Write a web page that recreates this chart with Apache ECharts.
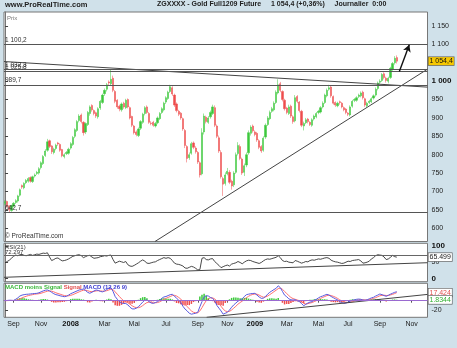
<!DOCTYPE html>
<html><head><meta charset="utf-8">
<script src="https://cdn.jsdelivr.net/npm/echarts@6/dist/echarts.min.js"></script>
<style>html,body{margin:0;padding:0;background:#d0e1ea}#c{width:457px;height:348px}</style>
</head><body><div id="c"></div>
<script>
// ---- price candles (one candle per 3 trading days, Aug 2007 - Oct 2009) ----
const opens = [
668,673,661,648,660,670,
674,690,716,710,724,
728,738,727,742,749,750,
765,776,798,812,
838,824,806,817,
832,828,814,795,803,
804,818,828,850,866,893,
908,888,862,882,
912,934,920,914,903,927,
942,966,978,998,993,
1008,972,948,932,922,940,928,
950,928,904,878,862,
852,872,888,912,930,
912,886,888,878,887,
898,915,922,943,953,972,
982,962,938,918,913,898,
866,822,792,804,
832,818,806,778,
748,862,902,888,
903,912,928,878,
846,806,735,
722,748,752,728,
718,752,803,822,788,
752,772,805,858,878,
862,858,838,822,812,
848,882,898,918,922,942,968,
993,972,948,927,912,932,903,
892,958,943,918,878,
887,897,888,880,897,
903,915,916,930,942,960,978,
984,958,942,933,944,
940,928,924,913,908,
932,948,948,958,960,970,
952,933,942,944,954,962,
980,997,1002,1020,1008,
1000,1010,1033,1050,1064
];
const closes = [
672,660,650,662,668,675,
688,705,712,722,730,
735,728,740,745,752,762,
778,795,810,835,
822,808,815,826,
829,812,797,800,806,
815,830,847,868,890,905,
890,860,885,915,
930,922,912,905,925,945,
962,975,990,995,1005,
975,945,930,925,938,930,948,
930,900,880,860,855,
870,890,910,928,915,
888,885,880,885,900,
912,925,940,955,970,985,
965,935,920,910,900,870,
825,790,800,830,
820,808,780,745,
860,905,890,900,
915,930,880,850,
810,740,720,
745,755,725,715,
750,800,825,790,750,
770,800,860,875,865,
855,840,820,810,845,
880,900,915,925,940,970,990,
975,950,925,915,930,905,890,
955,945,920,880,885,
895,890,882,895,905,
912,918,928,940,962,975,982,
960,940,935,940,942,
930,922,915,910,930,
945,950,955,962,968,955,
935,940,945,952,960,978,
995,1000,1018,1010,1002,
1008,1035,1048,1062,1054.4
];
const highs = [
676,675,663,664,671,679,
691,708,719,725,734,
739,741,743,749,756,766,
782,799,815,843,
841,826,819,830,
835,831,816,804,810,
819,834,851,872,894,910,
912,891,888,919,
934,937,923,917,929,949,
966,980,995,1002,1033,
1015,976,951,936,942,944,952,
953,931,906,881,866,
874,894,914,932,934,
916,891,892,889,904,
916,929,944,959,974,990,
986,966,942,922,916,901,
870,826,806,835,
836,823,810,782,
872,912,906,905,
920,936,934,882,
852,812,740,
752,764,758,732,
755,806,834,828,792,
776,806,866,880,882,
866,862,842,826,850,
885,905,920,930,945,975,1005,
998,975,952,930,936,936,907,
962,962,946,922,890,
900,900,891,899,909,
916,922,932,945,966,980,990,
987,961,945,944,947,
943,931,927,916,934,
949,954,959,966,972,974,
955,944,949,956,964,983,
999,1005,1022,1024,1012,
1012,1039,1052,1068,1070
];
const lows = [
662,656,643,645,657,666,
670,686,707,706,720,
724,724,723,738,745,746,
760,772,794,808,
818,802,801,812,
824,808,793,790,799,
800,814,824,845,862,888,
885,852,856,878,
906,917,907,900,898,922,
938,960,972,988,988,
970,940,925,918,917,925,924,
926,896,875,855,850,
848,867,884,907,911,
884,880,876,874,883,
894,911,918,938,949,968,
960,930,915,905,895,865,
818,779,786,800,
815,803,775,738,
744,855,885,884,
898,908,875,845,
805,735,688,
716,744,720,705,
712,748,798,785,745,
742,766,800,852,860,
850,835,815,805,808,
843,878,894,914,918,938,964,
970,945,920,910,908,900,884,
888,940,915,875,866,
883,885,878,876,893,
899,910,912,926,938,956,974,
955,936,930,929,936,
926,918,910,905,904,
928,943,944,954,956,950,
930,929,938,940,950,958,
975,992,998,1005,996,
994,1006,1028,1045,1048
];
// ---- RSI(21) ----
const rsi = [
48,52,56,62,68, 72,70,73,74,71, 70,72,74,71,73, 75,74,76,78,77,
79,66,55,58,62, 63,58,54,55,57, 60,64,68,70,72, 73,70,64,67,70,
71,66,62,63,64, 67,68,70,69,71, 72,58,47,50,53, 51,49,52,42,38,
37,40,44,48,53, 57,53,47,46,48, 50,51,55,58,61, 64,62,64,62,55,
47,44,43,41,38, 32,31,34,37,35, 31,26,27,62,64, 58,57,60,61,52,
46,40,33,36,39, 41,38,44,46,48, 52,49,45,50,54, 56,55,52,50,48,
46,49,54,58,60, 59,61,63,65,70, 64,55,52,53,50, 49,48,55,53,50,
47,49,52,51,55, 57,56,58,60,59, 61,63,64,62,56, 53,51,50,48,46,
47,50,53,52,55, 56,57,58,54,47, 48,50,53,60,64, 70,73,72,71,66,
58,60,65,71,67,65.499
];
// ---- MACD (12 26 9) ----
const macd = [
0,0.5,1,0.8,0.5, 3,6,10,12,13, 13.7,14,14.5,15,15.5, 15.8,17,19,21,22.5,
23,21,18,15,13, 12,10.5,9.5,8.6,9.5, 12,15,17,19,21, 23,24,25,22,18,
16,18,21,23,22, 20,19,21,24,27, 28,20,9,3,-2, -5,-6,-6,-9,-14,
-17.5,-17.8,-16,-13,-8, -3,1,1.4,-2,-5, -5.7,-4,-2,1,5, 8,9,11,13,13.7,
10,5,1.4,-4,-12, -18,-22,-27,-29,-28, -27,-25,-13,-2,8, 10.8,10,7,5,0,
-10,-16,-22,-29,-27, -25,-20,-14,-9,-5, -1,1.4,4,9,13, 14,15,15.5,15.8,12,
8,5,5.5,9,14, 18,21,24,26.5,32, 28,20,12,8.6,4, 2,1.4,2,0,-2,
-6,-10.8,-8,-5,-3, -2,1,3,6,8.6, 10,12,13.7,12,9, 6.5,4,2,-2,-4,
-5.7,-5,-3,-1,1, 2,3,3.5,3,1.4, 1,2,4,6,7.3, 10,12,14.4,13,11,
9.5,11.6,14,16,18,19.26
];
const signal = [
0,0.2,0.4,0.5,0.5, 1,2,4,6,8, 9.5,11,12,13,14, 14.5,15,16,17.5,19,
20.5,21,20.5,19,17, 15.5,14,12.5,11,10.5, 10.5,11.5,13,15,17, 19,21,22.5,22.5,21.5,
20,19.5,20,21,21.5, 21,20.5,20.5,21.5,23, 25,24,19,14,9, 4,0,-2.5,-4.5,-7.5,
-11,-13.5,-15,-15,-13.5, -10.5,-7,-4,-3,-3.5, -4.5,-4.5,-4,-2.5,0, 3,5,7,9,11,
11.5,10,7,3.5,-2, -7.5,-12.5,-17.5,-22,-25, -26,-26,-22,-15,-7, 0,4.5,6,6,4,
-1,-6.5,-12,-18,-22, -23.5,-23,-20,-16,-12, -7.5,-4,-1,3,6.5, 9.5,12,13.5,14.5,14,
12,9.5,7.5,8,10, 13,16,19.5,22.5,26, 27,24.5,20,15.5,11, 7,4.5,3,1.5,0,
-2.5,-5.5,-7,-6.5,-5, -4,-2,0,2.5,5, 7,9,11,12,11, 9.5,7.5,5,2,-0.5,
-2.5,-4,-4,-3,-2, -0.5,1,2,2.5,2, 1.6,1.8,2.5,3.5,5, 6.5,8.5,10.5,11.5,11.8,
11.2,11.3,12.4,13.6,15.4,17.424
];
const hist = [
0,0.3,0.6,0.3,0, 2,4,6,6,5, 4.2,3,2.5,2,1.5, 1.3,2,3,3.5,3.5,
2.5,0,-2.5,-4,-4, -3.5,-3.5,-3,-2.4,-1, 1.5,3.5,4,4,4, 4,3,2.5,-0.5,-3.5,
-4,-1.5,1,2,0.5, -1,-1.5,0.5,2.5,4, 3,-4,-10,-11,-11, -9,-6,-3.5,-4.5,-6.5,
-6.5,-4.3,-1,2,5.5, 7.5,8,5.4,1,-1.5, -1.2,0.5,2,3.5,5, 5,4,4,4,2.7,
-1.5,-5,-5.6,-7.5,-10, -10.5,-9.5,-9.5,-7,-3, -1,1,9,13,15, 10.8,5.5,1,-1,-4,
-9,-9.5,-10,-11,-5, -1.5,3,6,7,7, 6.5,5.4,5,6,6.5, 4.5,3,2,1.3,-2,
-4,-4.5,-2,1,4, 5,5,4.5,4,6, 1,-4.5,-8,-7,-7, -5,-3,-1,-1.5,-2,
-3.5,-5.3,-1,1.5,2, 2,3,3,3.5,3.6, 3,3,2.7,0,-2, -3,-3.5,-3,-4,-3.5,
-3.2,-1,1,2,3, 2.5,2,1.5,0.5,-0.6, -0.6,0.2,1.5,2.5,2.3, 3.5,3.5,3.9,1.5,-0.8,
-1.7,0.3,1.6,2.4,2.6,1.8344
];
// ---- axes / annotations ----
const totalSlots = 200;
const monthTicks = [[4,'Sep'],[17,'Nov'],[31,'2008'],[47,'Mar'],[61,'Mai'],[76,'Jul'],[91,'Sep'],[105,'Nov'],[118,'2009'],[133,'Mar'],[148,'Mai'],[162,'Jul'],[177,'Sep'],[192,'Nov']];
const priceTicks = [600,650,700,750,800,850,900,950,1000,1100,1150];
const rsiTicks = [0,50,100];
const macdTicks = [-20];
const levelValues = [1100.2,1032.3,1025.8,989.7,642.7];
const levelLabels = ['1 100,2','1 032,3','1 025,8','989,7','642,7'];
const trendDown = [[-0.5,1053.3],[199.5,983.7]];
const trendUp = [[70.8,564],[199.5,1032.6]];
const arrowPts = [[186.2,1026],[190.9,1099]];
const rsiLevel = 72.297;
const rsiTrend = [[-0.5,3.1],[199.5,48.3]];
const macdTrend = [[95.2,-35.7],[199.5,13.5]];

const UP='#3cc83c', DOWN='#ee4c4c', FONT='Liberation Sans, Arial, sans-serif';
const cats=[]; {let d=new Date(Date.UTC(2007,7,13));for(let i=0;i<totalSlots;i++){cats.push(d.toISOString().slice(0,10));let n=0;while(n<3){d.setUTCDate(d.getUTCDate()+1);const w=d.getUTCDay();if(w!==0&&w!==6)n++;}}}
const tickMap=new Map(monthTicks);
const ohlc=closes.map((c,i)=>[opens[i],c,lows[i],highs[i]]);
function fr(v,dec){let s=dec?v.toFixed(dec).replace('.',','):String(v);const [a,b]=s.split(',');const ip=a.length>3?a.slice(0,-3)+' '+a.slice(-3):a;return b!==undefined?ip+','+b:ip;}
const last=closes.length-1;
const grids=[{left:4,right:29.5,top:12,height:229.5},{left:4,right:29.5,top:243.3,height:38.4},{left:4,right:29.5,top:283.3,height:34}];
const gridStyle={show:true,backgroundColor:'#fff',borderColor:'#777',borderWidth:1};
const catAxis=(g,showLabels)=>({type:'category',gridIndex:g,data:cats,boundaryGap:true,
  axisLine:{show:showLabels,lineStyle:{color:'#777'}},
  axisTick:{show:showLabels,interval:(i)=>tickMap.has(i),alignWithLabel:true,length:2,lineStyle:{color:'#555'}},
  axisLabel:{show:showLabels,interval:(i)=>tickMap.has(i),formatter:(v,i)=>{const t=tickMap.get(i)||'';return /^\d{4}$/.test(t)?'{y|'+t+'}':t;},
    fontSize:7,color:'#222',margin:3,fontFamily:FONT,rich:{y:{fontWeight:'bold',fontSize:7.5,fontFamily:FONT,color:'#111'}}},
  splitLine:{show:false}});
const valX=(g)=>({type:'value',gridIndex:g,min:-0.5,max:totalSlots-0.5,show:false});
const yAx=(g,min,max,ticks,boldSet)=>({type:'value',gridIndex:g,position:'right',min,max,scale:true,
  axisLine:{show:true,lineStyle:{color:'#777'}},
  axisTick:{show:true,length:3,customValues:ticks,lineStyle:{color:'#444'}},
  axisLabel:{customValues:ticks,fontSize:7,color:'#222',margin:4,fontFamily:FONT,
    formatter:(v)=>boldSet.includes(v)?'{b|'+fr(v)+'}':fr(v),rich:{b:{fontWeight:'bold',fontSize:8,fontFamily:FONT,color:'#111'}}},
  splitLine:{show:false}});
const HIDDEN={color:'rgba(0,0,0,0)',width:0.01,type:'solid'};
const boxLabel=(txt,color,bg)=>({show:true,position:'end',distance:1,formatter:txt,fontSize:7,color,fontFamily:FONT,backgroundColor:bg,borderColor:'#555',borderWidth:0.6,padding:[1,1,0,1]});
const trendStyle={color:'#444',width:1};
const option={
  animation:false,backgroundColor:'#d0e1ea',
  textStyle:{fontFamily:FONT},
  title:[
    {text:'www.ProRealTime.com',left:5,top:1,padding:0,textStyle:{fontSize:7.5,fontWeight:'bold',color:'#222',fontFamily:FONT}},
    {text:'ZGXXXX - Gold Full1209 Future     '+fr(closes[last],1)+' (+0,36%)     Journalier  0:00',left:157,top:1,padding:0,textStyle:{fontSize:7,fontWeight:'bold',color:'#222',fontFamily:FONT}},
    {text:'Prix',left:7,top:15,padding:0,textStyle:{fontSize:6,fontWeight:'normal',color:'#777',fontFamily:FONT}},
    {text:'© ProRealTime.com',left:5,top:233,padding:0,textStyle:{fontSize:6.5,fontWeight:'normal',color:'#333',fontFamily:FONT}},
    {text:'RSI(21)',left:5,top:244,padding:0,textStyle:{fontSize:6,fontWeight:'normal',color:'#333',fontFamily:FONT}},
    {text:String(rsiLevel),left:5,top:249,padding:0,textStyle:{fontSize:6,fontWeight:'normal',color:'#333',fontFamily:FONT}},
    {text:'{g|MACD moins Signal} {r|Signal} {b|MACD (12 26 9)}',left:5,top:284,padding:0,textStyle:{fontSize:6,fontFamily:FONT,rich:{g:{color:'#3cb83c',fontSize:6,fontFamily:FONT},r:{color:'#e05050',fontSize:6,fontFamily:FONT},b:{color:'#4040d0',fontSize:6,fontFamily:FONT}}}}
  ],
  grid:grids.map(g=>Object.assign({},g,gridStyle)),
  xAxis:[catAxis(0,false),catAxis(1,false),catAxis(2,true),valX(0),valX(1),valX(2)],
  yAxis:[yAx(0,564,1188,priceTicks,[1000]),yAx(1,-10.5,108.4,rsiTicks,[0,100]),yAx(2,-35.7,37.4,macdTicks,[])],
  series:[
    {type:'candlestick',xAxisIndex:0,yAxisIndex:0,data:ohlc,barWidth:1.7,
     itemStyle:{color:UP,color0:DOWN,borderColor:UP,borderColor0:DOWN,borderWidth:0.5},
     markLine:{silent:true,symbol:'none',animation:false,
       lineStyle:{color:'#555',width:1,type:'solid'},
       label:{position:'insideStartTop',fontSize:6.5,color:'#333',fontFamily:FONT,distance:[1,1]},
       data:levelValues.map((v,i)=>({yAxis:v,label:{formatter:levelLabels[i]}})).concat([
         {yAxis:closes[last],lineStyle:HIDDEN,label:boxLabel(fr(closes[last],1),'#111','#f6c800')}])}},
    {type:'line',xAxisIndex:3,yAxisIndex:0,data:trendDown,symbol:'none',lineStyle:trendStyle},
    {type:'line',xAxisIndex:3,yAxisIndex:0,data:trendUp,symbol:'none',lineStyle:trendStyle,
     markLine:{silent:true,symbol:['none','arrow'],symbolSize:[6,7],lineStyle:{color:'#111',width:1.4,type:'solid'},label:{show:false},
       data:[[{coord:arrowPts[0]},{coord:arrowPts[1]}]]}},
    {type:'line',xAxisIndex:1,yAxisIndex:1,data:rsi,symbol:'none',lineStyle:{color:'#333',width:0.9},
     markLine:{silent:true,symbol:'none',lineStyle:{color:'#666',width:1,type:'solid'},label:{show:false},
       data:[{yAxis:rsiLevel},{yAxis:rsi[last],lineStyle:HIDDEN,label:boxLabel(String(rsi[last]),'#222','#fff')}]}},
    {type:'line',xAxisIndex:4,yAxisIndex:1,data:rsiTrend,symbol:'none',lineStyle:trendStyle},
    {type:'bar',xAxisIndex:2,yAxisIndex:2,data:hist,barWidth:1.5,
     itemStyle:{color:(p)=>p.value>=0?UP:DOWN}},
    {type:'line',xAxisIndex:2,yAxisIndex:2,data:signal,symbol:'none',lineStyle:{color:'#ff7070',width:1},
     markLine:{silent:true,symbol:'none',label:{show:false},
       data:[{yAxis:0,lineStyle:{color:'#9a6ad0',width:1,type:'solid'}},
             {yAxis:signal[last],lineStyle:HIDDEN,label:boxLabel(String(signal[last]),'#e05050','#fff')},
             {yAxis:hist[last],lineStyle:HIDDEN,label:boxLabel(String(hist[last]),'#30b030','#fff')}]}},
    {type:'line',xAxisIndex:2,yAxisIndex:2,data:macd,symbol:'none',lineStyle:{color:'#5a5ae0',width:1}},
    {type:'line',xAxisIndex:5,yAxisIndex:2,data:macdTrend,symbol:'none',lineStyle:trendStyle}
  ]
};
const chart=echarts.init(document.getElementById('c'),null,{renderer:'canvas'});
chart.setOption(option);
</script></body></html>
